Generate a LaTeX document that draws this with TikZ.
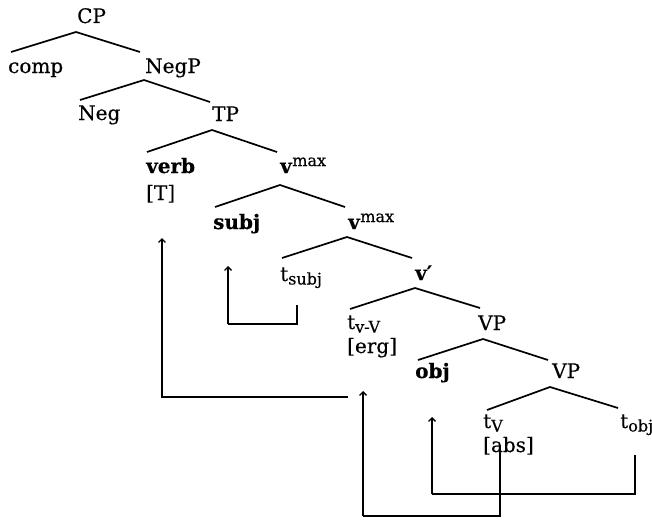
\documentclass[tikz,border=0pt]{standalone}
\usepackage{fontspec}
\setmainfont{DejaVu Serif}
\newfontfamily\medfont{DejaVu Serif}[FakeBold=0.4]
\usetikzlibrary{arrows.meta}
\newcommand\mysub[1]{\raisebox{-3.5pt}{\fontsize{16}{17}\selectfont #1}}
\newcommand\mysup[1]{\raisebox{7pt}{\fontsize{16}{17}\selectfont #1}}
\begin{document}
\begin{tikzpicture}[x=1pt,y=-1pt,
  lbl/.style={inner sep=0pt,anchor=base west,font=\medfont\fontsize{20}{22}\selectfont},
  br/.style={line width=1.7pt},
  mv/.style={line width=1.4pt},
  mvarr/.style={line width=1.4pt,-{Straight Barb[length=3.5pt,width=7pt,line width=1.3pt]}}]
\useasboundingbox (0,0) rectangle (652,519);
% nodes
\node[lbl] (CP)   at (77,23)  {CP};
\node[lbl] (comp) at (8,73)   {comp};
\node[lbl] (NegP) at (145,73) {NegP};
\node[lbl] (Neg)  at (78,120) {Neg};
\node[lbl] (TP)   at (212,121){TP};
\node[lbl] (verb) at (146,173){\textbf{verb}};
\node[lbl] (T)    at (146,200){[T]};
\node[lbl] (vmaxA) at (280,173){\textbf{v}\mysup{max}};
\node[lbl] (subj) at (213,229){\textbf{subj}};
\node[lbl] (vmaxB) at (348,229){\textbf{v}\mysup{max}};
\node[lbl] (tsubj) at (280,281){t\mysub{subj}};
\node[lbl] (vbar) at (415,280){\textbf{v′}};
\node[lbl] (tvV)  at (347,329){t\mysub{v-V}};
\node[lbl] (erg)  at (347,353){[erg]};
\node[lbl] (VPA)  at (478,330){VP};
\node[lbl] (obj)  at (415,378){\textbf{obj}};
\node[lbl] (VPB)  at (552,378){VP};
\node[lbl] (tV)   at (483,428){t\mysub{V}};
\node[lbl] (abs)  at (483,452){[abs]};
\node[lbl] (tobj) at (620,428){t\mysub{obj}};
% branches
\draw[br] ([shift={(3pt,21pt)}]comp.base west) -- ([shift={(-1pt,-9pt)}]CP.base west) -- ([shift={(-5pt,21pt)}]NegP.base west);
\draw[br] ([shift={(2pt,20pt)}]Neg.base west) -- ([shift={(-1pt,-7pt)}]NegP.base west) -- ([shift={(-2pt,19pt)}]TP.base west);
\draw[br] ([shift={(1pt,21pt)}]verb.base west) -- ([shift={(0pt,-9pt)}]TP.base west) -- ([shift={(-3pt,21pt)}]vmaxA.base west);
\draw[br] ([shift={(2pt,22pt)}]subj.base west) -- ([shift={(0pt,-12pt)}]vmaxA.base west) -- ([shift={(-3pt,22pt)}]vmaxB.base west);
\draw[br] ([shift={(2pt,23pt)}]tsubj.base west) -- ([shift={(-1pt,-8pt)}]vmaxB.base west) -- ([shift={(-3pt,22pt)}]vbar.base west);
\draw[br] ([shift={(3pt,20pt)}]tvV.base west) -- ([shift={(0pt,-8pt)}]vbar.base west) -- ([shift={(2pt,22pt)}]VPA.base west);
\draw[br] ([shift={(3pt,18pt)}]obj.base west) -- ([shift={(5pt,-9pt)}]VPA.base west) -- ([shift={(-4pt,18pt)}]VPB.base west);
\draw[br] ([shift={(4pt,18pt)}]tV.base west) -- ([shift={(-2pt,-9pt)}]VPB.base west) -- ([shift={(-2pt,20pt)}]tobj.base west);
% movement paths
\coordinate (m1s) at (348,397);
\coordinate (m1e) at (162,238);
\draw[mvarr] (m1s) -| (m1e);
\coordinate (m2s) at (297,305);
\coordinate (m2c) at (228,324);
\coordinate (m2e) at (228,266);
\draw[mv] (m2s) |- (m2c);
\draw[mvarr] (m2c) -- (m2e);
\coordinate (m3s) at (635,455);
\coordinate (m3c) at (432,494);
\coordinate (m3e) at (432,417);
\draw[mv] (m3s) |- (m3c);
\draw[mvarr] (m3c) -- (m3e);
\coordinate (m4s) at (500,447);
\coordinate (m4c) at (363,516);
\coordinate (m4e) at (363,391);
\draw[mv] (m4s) |- (m4c);
\draw[mvarr] (m4c) -- (m4e);
\end{tikzpicture}
\end{document}
